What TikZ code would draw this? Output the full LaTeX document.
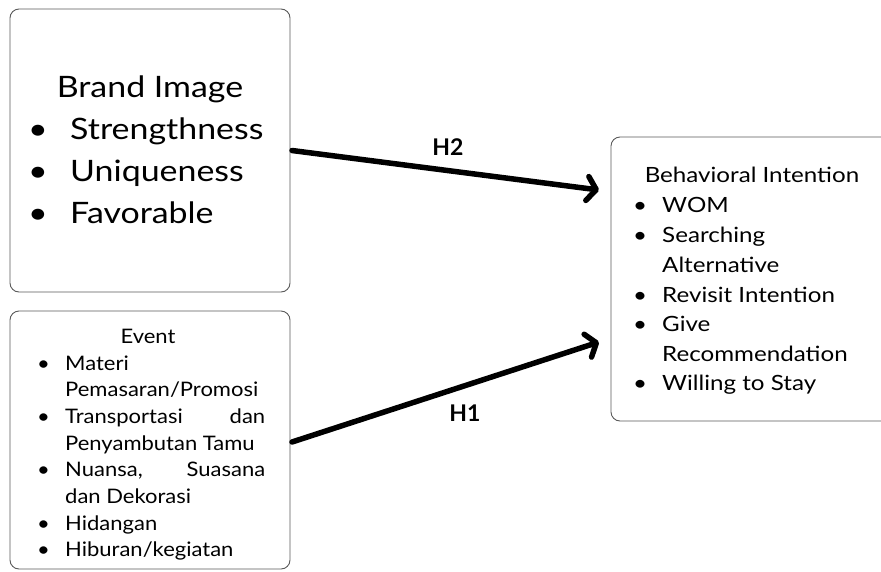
\documentclass[tikz,border=0pt]{standalone}
\usepackage{fontspec}
\setmainfont{Lato}[FakeStretch=1.15]
\newfontfamily\bfont{Lato}[FakeStretch=1.1]
\newfontfamily\hfont{Lato}
\usetikzlibrary{arrows.meta}
\tikzset{
  box/.style={draw=black!65, line width=0.9pt, rounded corners=9pt, fill=none, inner sep=0pt, outer sep=0pt},
  ta/.style={inner sep=0pt, font=\fontsize{29.5}{34}\selectfont},
  tb/.style={inner sep=0pt, font=\bfont\fontsize{20}{24}\selectfont},
  tc/.style={inner sep=0pt, font=\fontsize{21}{25}\selectfont},
  hl/.style={inner sep=0pt, font=\hfont\fontsize{23}{27}\selectfont\bfseries},
  conn/.style={line width=5.5pt, line cap=round, line join=round,
    -{Straight Barb[length=9pt, width=24pt, line cap=round, line join=round]}}
}
\begin{document}
\begin{tikzpicture}[x=1pt, y=-1pt]
\useasboundingbox (0,0) rectangle (881,571);
\begin{scope}
\clip (0,0) rectangle (881,571);
% boxes
\node[box, minimum width=280pt, minimum height=283pt] (b1) at (150,150.5) {};
\node[box, minimum width=280pt, minimum height=258pt] (b2) at (150,440) {};
\node[box, minimum width=290pt, minimum height=284pt] (b3) at (756,279) {};
\end{scope}
% box 1 text
\node[ta, anchor=base] (b1h) at (150,97) {Brand Image};
\node[ta, anchor=base] (b1p1) at (38,139) {\textbullet};
\node[ta, anchor=base west] (b1i1) at (70,139) {Strengthness};
\node[ta, anchor=base] (b1p2) at (38,181) {\textbullet};
\node[ta, anchor=base west] (b1i2) at (70,181) {Uniqueness};
\node[ta, anchor=base] (b1p3) at (38,223) {\textbullet};
\node[ta, anchor=base west] (b1i3) at (70,223) {Favorable};
% box 2 text
\node[tb, anchor=base] (b2h) at (148,343) {Event};
\node[tb, anchor=base] (b2p1) at (43.5,370) {\textbullet};
\node[tb, anchor=base west] (b2i1) at (65,370) {Materi};
\node[tb, anchor=base west] (b2i1b) at (65,396.7) {Pemasaran/Promosi};
\node[tb, anchor=base] (b2p2) at (43.5,423.3) {\textbullet};
\node[tb, anchor=base west] (b2i2) at (65,423.3) {\makebox[200pt][s]{Transportasi\hfill dan}};
\node[tb, anchor=base west] (b2i2b) at (65,450) {Penyambutan Tamu};
\node[tb, anchor=base] (b2p3) at (43.5,476.7) {\textbullet};
\node[tb, anchor=base west] (b2i3) at (65,476.7) {\makebox[200pt][s]{Nuansa,\hfill Suasana}};
\node[tb, anchor=base west] (b2i3b) at (65,503.3) {dan Dekorasi};
\node[tb, anchor=base] (b2p4) at (43.5,530) {\textbullet};
\node[tb, anchor=base west] (b2i4) at (65,530) {Hidangan};
\node[tb, anchor=base] (b2p5) at (43.5,556) {\textbullet};
\node[tb, anchor=base west] (b2i5) at (65,556) {Hiburan/kegiatan};
% box 3 text
\node[tc, anchor=base] (b3h) at (752,182) {Behavioral Intention};
\node[tc, anchor=base] (b3p1) at (640,212) {\textbullet};
\node[tc, anchor=base west] (b3i1) at (662,212) {WOM};
\node[tc, anchor=base] (b3p2) at (640,242) {\textbullet};
\node[tc, anchor=base west] (b3i2) at (662,242) {Searching};
\node[tc, anchor=base west] (b3i2b) at (662,272) {Alternative};
\node[tc, anchor=base] (b3p3) at (640,302) {\textbullet};
\node[tc, anchor=base west] (b3i3) at (662,302) {Revisit Intention};
\node[tc, anchor=base] (b3p4) at (640,331) {\textbullet};
\node[tc, anchor=base west] (b3i4) at (662,331) {Give};
\node[tc, anchor=base west] (b3i4b) at (662,361) {Recommendation};
\node[tc, anchor=base] (b3p5) at (640,390) {\textbullet};
\node[tc, anchor=base west] (b3i5) at (662,390) {Willing to Stay};
% connectors
\coordinate (e2) at ([xshift=-12pt, yshift=89pt]b3.west);
\coordinate (e1) at ([xshift=-12pt, yshift=-63pt]b3.west);
\draw[conn] ([xshift=2pt]b1.east) -- (e2);
\draw[conn] ([xshift=2pt, yshift=-2pt]b2.east) -- (e1);
\node[hl] (h2) at (448,147) {H2};
\node[hl] (h1) at (465,413) {H1};
\end{tikzpicture}
\end{document}
